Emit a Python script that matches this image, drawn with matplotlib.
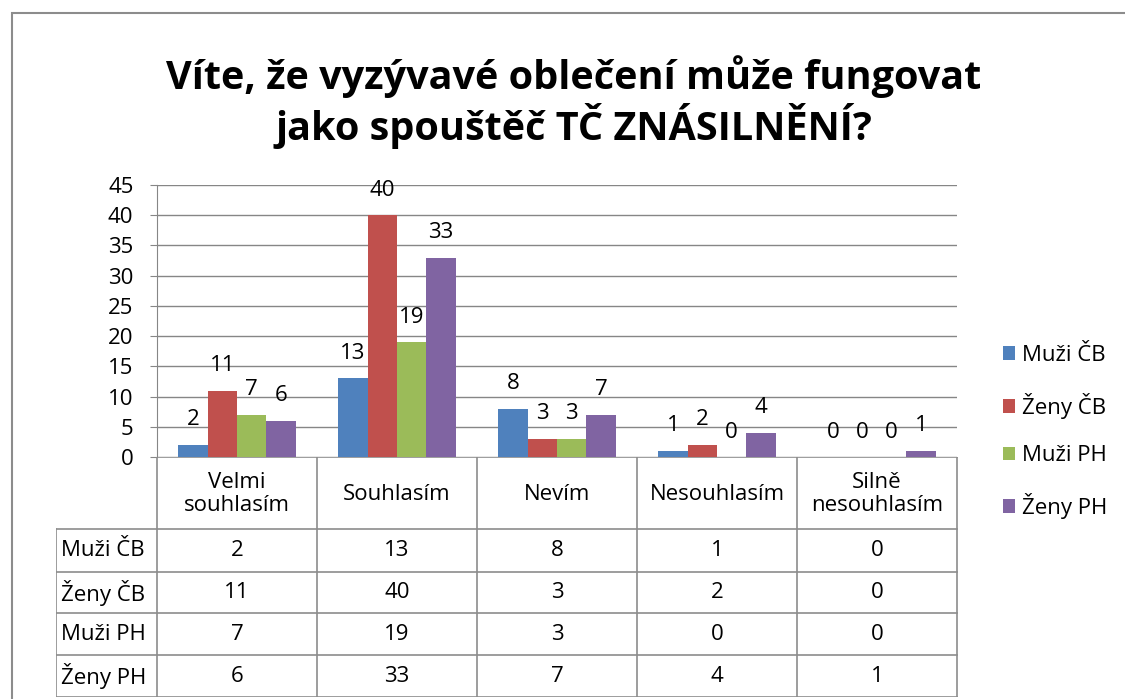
import matplotlib
matplotlib.use("Agg")
import matplotlib.pyplot as plt
import numpy as np
from matplotlib.patches import Rectangle, Patch

plt.rcParams['font.family'] = ['Open Sans', 'DejaVu Sans']

categories = ["Velmi\nsouhlasím", "Souhlasím", "Nevím", "Nesouhlasím", "Silně\nnesouhlasím"]
series_names = ["Muži ČB", "Ženy ČB", "Muži PH", "Ženy PH"]
muzi_cb = [2, 13, 8, 1, 0]
zeny_cb = [11, 40, 3, 2, 0]
muzi_ph = [7, 19, 3, 0, 0]
zeny_ph = [6, 33, 7, 4, 1]
series_values = [muzi_cb, zeny_cb, muzi_ph, zeny_ph]
colors = ["#4F81BD", "#C0504D", "#9BBB59", "#8064A2"]
yticks = [0, 5, 10, 15, 20, 25, 30, 35, 40, 45]
title = "Víte, že vyzývavé oblečení může fungovat\njako spouštěč TČ ZNÁSILNĚNÍ?"

W, H = 1125, 699
fig = plt.figure(figsize=(W / 100, H / 100), dpi=100)
fig.patch.set_facecolor("white")

def fx(px):
    return px / W

def fy(py):
    return 1 - py / H

grid_c = "#868686"
fs = 16

# outer frame
fig.patches.append(Rectangle((fx(12), fy(H + 10)), 1.2, fy(13) - fy(H + 10),
                             transform=fig.transFigure, fill=False,
                             edgecolor="#8c8c8c", linewidth=1.5))

fig.text(fx(574), fy(102), title, ha="center", va="center", fontsize=28.5,
         fontweight="bold", linespacing=1.12)

# main plot axes
ax = fig.add_axes([fx(157), fy(457), fx(800), fy(185) - fy(457)])
x = np.arange(len(categories))
bw = 0.183
for i, (vals, c, name) in enumerate(zip(series_values, colors, series_names)):
    pos = x + (i - 1.5) * bw
    ax.bar(pos, vals, width=bw, color=c, label=name, zorder=3)
    for p, v in zip(pos, vals):
        ax.annotate(str(v), (p, v), xytext=(0, 18), textcoords="offset points",
                    ha="center", va="center", fontsize=fs, zorder=4)

ax.set_xlim(-0.5, 4.5)
ax.set_ylim(0, 45)
ax.set_yticks(yticks)
ax.set_yticklabels([str(t) for t in yticks], fontsize=fs)
ax.set_xticks([])
ax.yaxis.grid(True, color=grid_c, linewidth=1, zorder=0)
for s in ["top", "right", "bottom"]:
    ax.spines[s].set_visible(False)
ax.spines["left"].set_color(grid_c)
ax.tick_params(axis="y", length=5, color=grid_c, pad=12)
ax.set_facecolor("none")

# data table
tl = fx(56)
ax_t = fig.add_axes([tl, fy(697), fx(958) - tl, fy(457) - fy(697)])
left_ext = -0.5 - 101 / 160
ax_t.set_xlim(left_ext, 4.5 + 1 / 160)
ax_t.set_ylim(697, 457)
ax_t.axis("off")
row_edges = [457, 529, 572, 613, 655, 697]
lc = "#8c8c8c"
ax_t.plot([-0.5, 4.5], [row_edges[0]] * 2, color=lc, lw=1.2)
for ry in row_edges[1:]:
    ax_t.plot([left_ext, 4.5], [ry, ry], color=lc, lw=1.2)
for cx in np.arange(len(categories) + 1) - 0.5:
    ax_t.plot([cx, cx], [row_edges[0], row_edges[-1]], color=lc, lw=1.2)
ax_t.plot([left_ext, left_ext], [row_edges[1], row_edges[-1]], color=lc, lw=1.2)

for ci, cat in enumerate(categories):
    ax_t.text(ci, (row_edges[0] + row_edges[1]) / 2 + 1, cat, ha="center", va="center",
              fontsize=fs, linespacing=1.1)
for ri, (name, vals) in enumerate(zip(series_names, series_values)):
    yc = (row_edges[ri + 1] + row_edges[ri + 2]) / 2
    ax_t.text(left_ext + 0.03, yc, name, ha="left", va="center", fontsize=fs)
    for ci, v in enumerate(vals):
        ax_t.text(ci, yc, str(v), ha="center", va="center", fontsize=fs)

# legend
handles = [Patch(facecolor=c, label=n) for c, n in zip(colors, series_names)]
fig.legend(handles=handles, loc="center left", bbox_to_anchor=(fx(983), fy(432)),
           frameon=False, fontsize=fs, handlelength=0.55, handleheight=0.55,
           handletextpad=0.3, labelspacing=1.2)

fig.savefig("out.png", dpi=100, facecolor="white")
